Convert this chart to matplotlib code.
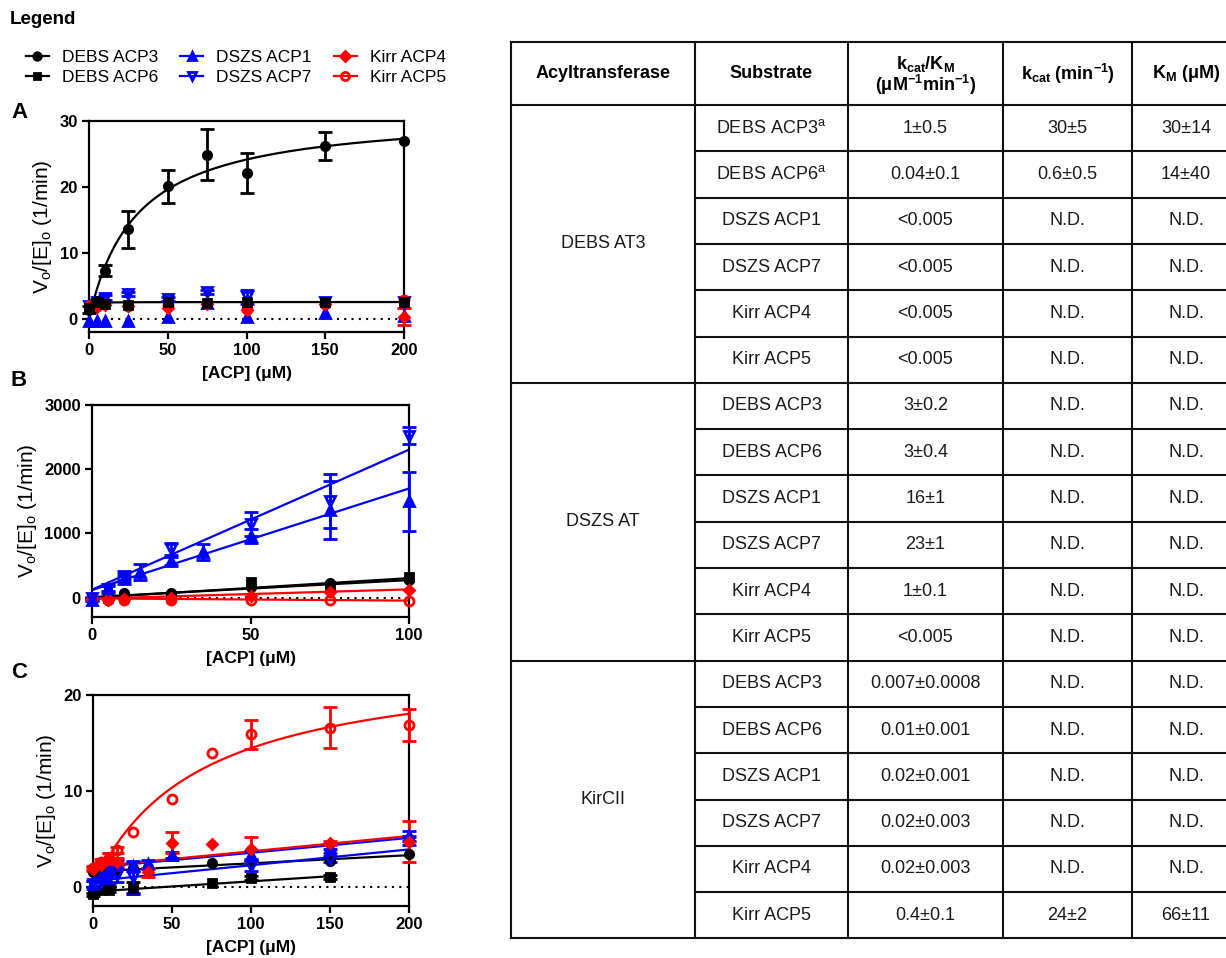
import numpy as np
import matplotlib
matplotlib.use('Agg')
import matplotlib.pyplot as plt
from matplotlib.lines import Line2D

plt.rcParams['font.family'] = ['Liberation Sans', 'DejaVu Sans']
plt.rcParams['mathtext.fontset'] = 'custom'
plt.rcParams['mathtext.rm'] = 'Liberation Sans'
plt.rcParams['mathtext.bf'] = 'Liberation Sans:bold'
plt.rcParams['mathtext.it'] = 'Liberation Sans:italic'

W, H = 1226, 958

# ---- panel A: DEBS AT3 ----
a_x = [0, 5, 10, 25, 50, 75, 100, 150, 200]
a_debs3 = [1.4, 2.7, 7.3, 13.6, 20.1, 24.9, 22.1, 26.2, 27.0]
a_debs3_err = [0.5, 0.3, 0.8, 2.8, 2.5, 3.9, 3.0, 2.1, 0]
a_debs6 = [1.7, 2.5, 2.3, 2.1, 2.6, 2.4, 2.5, 2.5, 2.5]
a_dszs1 = [-0.4, -0.3, -0.4, -0.3, 0.3, 2.4, 0.3, 0.85, 0.4]
a_dszs7 = [2.0, 2.5, 3.2, 3.7, 3.0, 4.0, 3.3, 2.5, 2.6]
a_dszs7_err = [0, 0, 0.4, 0.3, 0.3, 0.3, 1.0, 0, 0]
a_kirr4 = [2.0, 1.8, 2.1, 1.9, 1.7, 2.3, 1.4, 2.2, 0.35]
a_kirr4_err = [0, 0, 0, 0, 0, 0, 0, 0, 1.35]
a_kirr5 = [2.0, 1.9, 2.2, 2.0, 2.1, 2.4, 1.5, 2.3, 2.8]
a_fit_debs3 = (31.4, 30.0)   # Vmax, KM
a_fit_debs6 = (2.55, 0.4)

# ---- panel B: DSZS AT ----
b_x1 = [0, 5, 10, 15, 25, 35, 50, 75, 100]
b_dszs1 = [-30, 150, 290, 400, 570, 710, 960, 1360, 1500]
b_dszs1_err = [20, 60, 60, 130, 60, 130, 110, 450, 460]
b_x7 = [0, 5, 10, 25, 50, 75, 100]
b_dszs7 = [-10, 140, 340, 760, 1150, 1500, 2520]
b_dszs7_err = [20, 40, 60, 90, 190, 420, 130]
b_xd = [0, 5, 10, 25, 50, 75, 100]
b_debs3 = [0, 20, 80, 70, 160, 230, 270]
b_debs6 = [-20, 0, 10, 20, 250, 190, 320]
b_kirr4 = [-20, -30, -20, -10, 20, 90, 125]
b_kirr5 = [-10, -30, -30, -30, -40, -40, -55]
b_fit_dszs1 = (15.8, 120)    # slope, intercept
b_fit_dszs7 = (21.8, 125)
b_fit_debs3 = (2.65, 10)
b_fit_debs6 = (3.05, 0)
b_fit_kirr4 = (1.45, -15)
b_fit_kirr5 = (-0.35, -10)

# ---- panel C: KirCII ----
c_x5 = [0, 5, 10, 15, 25, 50, 75, 100, 150, 200]
c_kirr5 = [2.0, 2.6, 3.0, 3.8, 5.7, 9.2, 14.0, 15.9, 16.6, 16.9]
c_kirr5_err = [0.2, 0.3, 0.5, 0.3, 0, 0, 0, 1.5, 2.1, 1.65]
c_x4 = [0, 5, 10, 15, 35, 50, 75, 100, 150, 200]
c_kirr4 = [1.9, 2.3, 2.9, 2.6, 1.5, 4.6, 4.5, 3.9, 4.6, 4.7]
c_kirr4_err = [0.2, 0.3, 0.6, 0.4, 0.5, 1.1, 0, 1.3, 0.2, 2.15]
c_x1 = [0, 5, 10, 15, 25, 35, 50, 100, 150, 200]
c_dszs1 = [0.3, 1.0, 1.8, 2.4, 2.2, 2.4, 3.3, 3.3, 4.2, 5.3]
c_dszs1_err = [0.3, 0.5, 0.5, 0.4, 0.5, 0.4, 0.3, 0.4, 0.3, 0.5]
c_x7 = [0, 5, 10, 15, 25, 100, 150, 200]
c_dszs7 = [0.3, 0.5, 0.9, 1.2, 1.0, 2.2, 2.9, 4.8]
c_dszs7_err = [0.3, 0.9, 0.6, 0.7, 1.6, 0.5, 0.3, 0.4]
c_x3 = [0, 5, 10, 15, 25, 35, 75, 100, 150, 200]
c_debs3 = [1.5, 1.6, 1.7, 1.9, 2.0, 2.1, 2.5, 2.6, 2.7, 3.4]
c_x6 = [0, 5, 10, 25, 75, 100, 150]
c_debs6 = [-0.8, -0.3, -0.3, -0.1, 0.4, 0.9, 1.0]
c_debs6_err = [0.2, 0.2, 0.2, 0.6, 0, 0.2, 0.2]
c_fit_kirr5 = (24.0, 66.0)
c_fit_kirr4 = (0.016, 2.1)
c_fit_dszs1 = (0.0155, 2.0)
c_fit_dszs7 = (0.0165, 0.6)
c_fit_debs3 = (0.0085, 1.6)
c_fit_debs6 = (0.0107, -0.5)

# ---- table ----
enzymes = ['DEBS AT3', 'DSZS AT', 'KirCII']
substrates = ['DEBS ACP3', 'DEBS ACP6', 'DSZS ACP1', 'DSZS ACP7', 'Kirr ACP4', 'Kirr ACP5']
kcat_km = ['1±0.5', '0.04±0.1', '<0.005', '<0.005', '<0.005', '<0.005',
           '3±0.2', '3±0.4', '16±1', '23±1', '1±0.1', '<0.005',
           '0.007±0.0008', '0.01±0.001', '0.02±0.001', '0.02±0.003', '0.02±0.003', '0.4±0.1']
kcat = ['30±5', '0.6±0.5'] + ['N.D.'] * 15 + ['24±2']
km = ['30±14', '14±40'] + ['N.D.'] * 15 + ['66±11']
footnoted = [0, 1]

BLUE, RED = '#0000ff', '#ff0000'
styles = {
    'DEBS ACP3': dict(color='black', marker='o', mfc='black', ms=6),
    'DEBS ACP6': dict(color='black', marker='s', mfc='black', ms=5.5),
    'DSZS ACP1': dict(color=BLUE, marker='^', mfc=BLUE, ms=6.5),
    'DSZS ACP7': dict(color=BLUE, marker='v', mfc='none', ms=6.5),
    'Kirr ACP4': dict(color=RED, marker='D', mfc=RED, ms=5.5),
    'Kirr ACP5': dict(color=RED, marker='o', mfc='none', ms=6.5),
}


def points(ax, name, x, y, err=None, z=3):
    st = styles[name]
    x, y = np.asarray(x, float), np.asarray(y, float)
    if err is not None:
        e = np.asarray(err, float)
        m = e > 0
        ax.errorbar(x[m], y[m], yerr=e[m], fmt='none', ecolor=st['color'],
                    elinewidth=2, capsize=5, capthick=2, clip_on=False, zorder=z)
    ax.plot(x, y, ls='none', marker=st['marker'], color=st['color'], mfc=st['mfc'],
            mec=st['color'], ms=st['ms'], mew=2, clip_on=False, zorder=z + 0.1)


def mm_curve(ax, name, params, xmax, z=2):
    v, k = params
    xs = np.linspace(0, xmax, 400)
    ax.plot(xs, v * xs / (k + xs), color=styles[name]['color'], lw=1.6, zorder=z)


def lin_curve(ax, name, params, xmax, z=2):
    s, b = params
    xs = np.array([0, xmax])
    ax.plot(xs, s * xs + b, color=styles[name]['color'], lw=1.6, zorder=z)


def px_axes(fig, l, t, r, b):
    return fig.add_axes([l / W, 1 - b / H, (r - l) / W, (b - t) / H])


def style_axes(ax, xmax, xticks, ylim, yticks):
    ax.set_xlim(0, xmax)
    ax.set_ylim(*ylim)
    ax.set_xticks(xticks)
    ax.set_yticks(yticks)
    for s in ax.spines.values():
        s.set_linewidth(1.6)
    ax.tick_params(direction='out', length=5, width=1.6, labelsize=12, pad=3)
    for lab in ax.get_xticklabels() + ax.get_yticklabels():
        lab.set_fontweight('bold')
    ax.plot([0, xmax], [0, 0], color='black', lw=1.5, ls=(0, (1, 2.5)), zorder=1)
    ax.set_xlabel('[ACP] (μM)', fontsize=12.5, fontweight='bold', labelpad=6)
    ax.set_ylabel('V$_\\mathrm{o}$/[E]$_\\mathrm{o}$ (1/min)', fontsize=15, labelpad=4)


fig = plt.figure(figsize=(W / 100, H / 100), dpi=100)

# panel A
axA = px_axes(fig, 89, 121, 404, 332)
mm_curve(axA, 'DEBS ACP6', a_fit_debs6, 200)
mm_curve(axA, 'DEBS ACP3', a_fit_debs3, 200)
points(axA, 'DSZS ACP1', a_x, a_dszs1)
points(axA, 'DSZS ACP7', a_x, a_dszs7, a_dszs7_err)
points(axA, 'Kirr ACP5', a_x, a_kirr5)
points(axA, 'Kirr ACP4', a_x, a_kirr4, a_kirr4_err)
points(axA, 'DEBS ACP6', a_x, a_debs6, z=4)
points(axA, 'DEBS ACP3', a_x, a_debs3, a_debs3_err, z=4)
style_axes(axA, 200, [0, 50, 100, 150, 200], (-2, 30), [0, 10, 20, 30])

# panel B
axB = px_axes(fig, 92, 405, 409, 617)
for name, p in [('DEBS ACP3', b_fit_debs3), ('DEBS ACP6', b_fit_debs6),
                ('Kirr ACP4', b_fit_kirr4), ('Kirr ACP5', b_fit_kirr5),
                ('DSZS ACP1', b_fit_dszs1), ('DSZS ACP7', b_fit_dszs7)]:
    lin_curve(axB, name, p, 100)
points(axB, 'DEBS ACP3', b_xd, b_debs3)
points(axB, 'DEBS ACP6', b_xd, b_debs6)
points(axB, 'Kirr ACP4', b_xd, b_kirr4)
points(axB, 'Kirr ACP5', b_xd, b_kirr5)
points(axB, 'DSZS ACP1', b_x1, b_dszs1, b_dszs1_err)
points(axB, 'DSZS ACP7', b_x7, b_dszs7, b_dszs7_err)
style_axes(axB, 100, [0, 50, 100], (-300, 3000), [0, 1000, 2000, 3000])

# panel C
axC = px_axes(fig, 93, 695, 409, 906)
lin_curve(axC, 'DEBS ACP3', c_fit_debs3, 200)
lin_curve(axC, 'DEBS ACP6', c_fit_debs6, 150)
lin_curve(axC, 'DSZS ACP7', c_fit_dszs7, 200)
lin_curve(axC, 'DSZS ACP1', c_fit_dszs1, 200)
lin_curve(axC, 'Kirr ACP4', c_fit_kirr4, 200)
mm_curve(axC, 'Kirr ACP5', c_fit_kirr5, 200)
points(axC, 'DEBS ACP6', c_x6, c_debs6, c_debs6_err)
points(axC, 'DEBS ACP3', c_x3, c_debs3)
points(axC, 'DSZS ACP7', c_x7, c_dszs7, c_dszs7_err)
points(axC, 'DSZS ACP1', c_x1, c_dszs1, c_dszs1_err)
points(axC, 'Kirr ACP4', c_x4, c_kirr4, c_kirr4_err)
points(axC, 'Kirr ACP5', c_x5, c_kirr5, c_kirr5_err)
style_axes(axC, 200, [0, 50, 100, 150, 200], (-2, 20), [0, 10, 20])

for lab, y in [('A', 113), ('B', 381), ('C', 673)]:
    fig.text(11 / W, 1 - y / H, lab, fontsize=16, fontweight='bold', va='center')

# legend
fig.text(10 / W, 1 - 20 / H, 'Legend', fontsize=13.5, fontweight='bold', va='center')
order = ['DEBS ACP3', 'DEBS ACP6', 'DSZS ACP1', 'DSZS ACP7', 'Kirr ACP4', 'Kirr ACP5']
handles = [Line2D([], [], color=styles[n]['color'], lw=1.6, marker=styles[n]['marker'],
                  mfc=styles[n]['mfc'], mec=styles[n]['color'], mew=2,
                  ms=styles[n]['ms'] * 0.9) for n in order]
fig.legend(handles, order, loc='upper left', bbox_to_anchor=(26 / W, 1 - 50 / H),
           ncol=3, frameon=False, fontsize=12.5, handlelength=1.3, handletextpad=0.75,
           columnspacing=1.3, labelspacing=0.25, borderpad=0, borderaxespad=0)

# table
axT = fig.add_axes([0, 0, 1, 1], zorder=-1)
axT.set_xlim(0, W)
axT.set_ylim(H, 0)
axT.axis('off')
col_edges = [511, 695, 848, 1003, 1132, 1240]
header_top, header_bot, row_h = 42, 105, 46.3
n_rows = len(enzymes) * len(substrates)
bottom = header_bot + n_rows * row_h
lw_t = 1.5
tc = '#111111'
for xe in col_edges:
    axT.plot([xe, xe], [header_top, bottom], color=tc, lw=lw_t, clip_on=False)
axT.plot([col_edges[0], col_edges[-1]], [header_top, header_top], color=tc, lw=lw_t, clip_on=False)
for i in range(n_rows + 1):
    y = header_bot + i * row_h
    x0 = col_edges[0] if i % len(substrates) == 0 else col_edges[1]
    axT.plot([x0, col_edges[-1]], [y, y], color=tc, lw=lw_t, clip_on=False)

centers = [(col_edges[i] + col_edges[i + 1]) / 2 for i in range(5)]
hy = (header_top + header_bot) / 2
hkw = dict(ha='center', va='center', fontsize=13, fontweight='bold')
axT.text(centers[0], hy, 'Acyltransferase', **hkw)
axT.text(centers[1], hy, 'Substrate', **hkw)
axT.text(centers[2], hy - 10, 'k$_{\\mathbf{cat}}$/K$_{\\mathbf{M}}$', **hkw)
axT.text(centers[2], hy + 11, '(μM$^{\\mathbf{-1}}$min$^{\\mathbf{-1}}$)', **hkw)
axT.text(centers[3], hy, 'k$_{\\mathbf{cat}}$ (min$^{\\mathbf{-1}}$)', **hkw)
axT.text(centers[4], hy, 'K$_{\\mathbf{M}}$ (μM)', **hkw)

ckw = dict(ha='center', va='center', fontsize=13, color='#1a1a1a')
for g, enz in enumerate(enzymes):
    gy = header_bot + (g + 0.5) * len(substrates) * row_h
    axT.text(centers[0], gy, enz, **ckw)
    for j, sub in enumerate(substrates):
        i = g * len(substrates) + j
        ry = header_bot + (i + 0.5) * row_h
        label = sub + ('$^{\\mathrm{a}}$' if i in footnoted else '')
        axT.text(centers[1], ry, label, **ckw)
        axT.text(centers[2], ry, kcat_km[i], **ckw)
        axT.text(centers[3], ry, kcat[i], **ckw)
        axT.text(centers[4], ry, km[i], **ckw)

fig.savefig('out.png', dpi=100)
